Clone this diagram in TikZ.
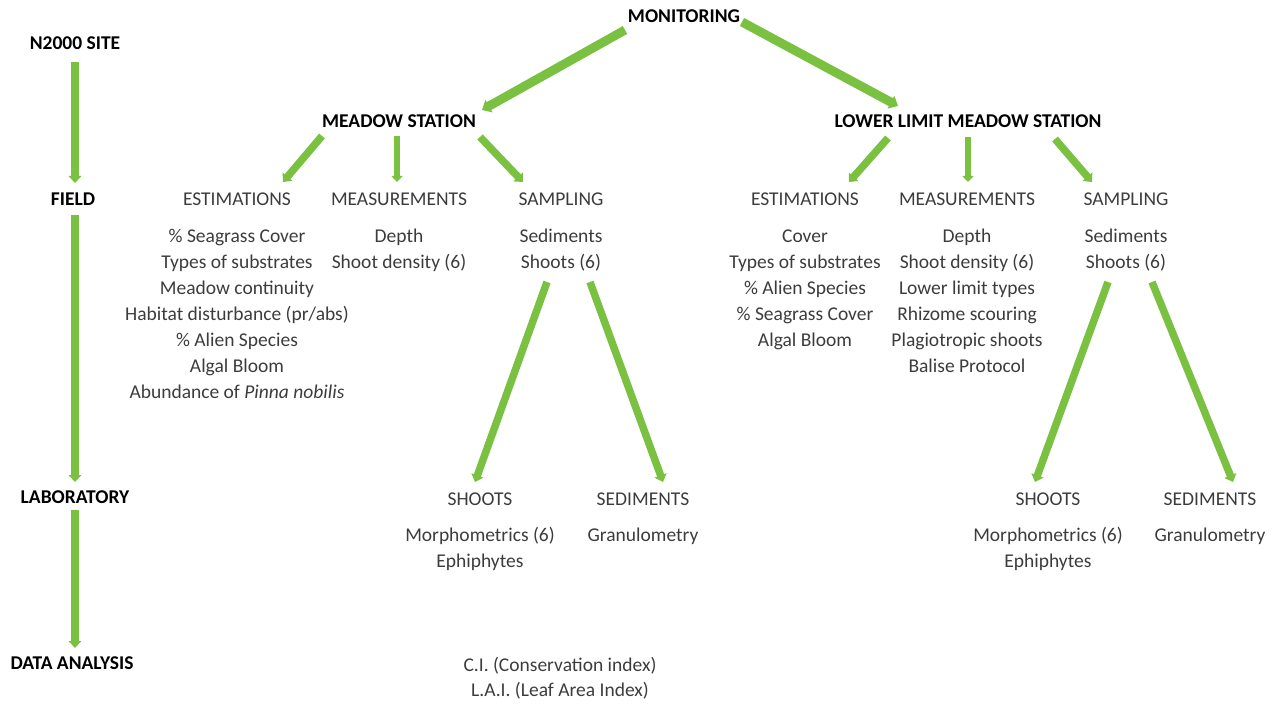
\documentclass[tikz,border=0pt]{standalone}
\usepackage{fontspec}
\setmainfont{Carlito}
\usetikzlibrary{arrows.meta}
\definecolor{leaf}{RGB}{122,193,66}
\definecolor{ink}{RGB}{60,60,60}
\begin{document}
\begin{tikzpicture}[x=1pt,y=-1pt,
  head/.style={font=\fontsize{19.5}{22}\selectfont\bfseries, text=black, inner sep=0pt, anchor=base},
  txt/.style={font=\fontsize{19.5}{22}\selectfont, text=ink, inner sep=0pt, anchor=base},
  arr/.style={draw=leaf, line width=7.5pt, -{Triangle[width=12.5pt,length=7pt]}},
  bigarr/.style={arr, line width=9pt, -{Triangle[width=14pt,length=8pt]}},
  thinarr/.style={arr, line width=6pt, -{Triangle[width=11pt,length=6pt]}},
]
\useasboundingbox (0,0) rectangle (1278,706);

% workflow stages (left column)
\node[head] (site)  at (75,50)  {N2000 SITE};
\node[head] (field) at (73,206) {FIELD};
\node[head] (lab)   at (75,503) {LABORATORY};
\node[head] (data)  at (72,669) {DATA ANALYSIS};

\draw[arr] ([shift={(0,12)}]site.base) -- ([shift={(2,-23)}]field.base);
\draw[arr] ([shift={(2,9)}]field.base) -- ([shift={(0,-21)}]lab.base);
\draw[arr] ([shift={(0,7)}]lab.base) -- ([shift={(3,-21)}]data.base);

% stations
\node[head] (mon) at (684,23)  {MONITORING};
\node[head] (ms)  at (399,128) {MEADOW STATION};
\node[head] (ls)  at (968,128) {LOWER LIMIT MEADOW STATION};

\draw[bigarr] ([shift={(-59,7)}]mon.base) -- ([shift={(83,-18)}]ms.base);
\draw[bigarr] ([shift={(58,-1)}]mon.base) -- ([shift={(-70,-22)}]ls.base);

% meadow station activities
\node[txt] (lest)  at (237,206) {ESTIMATIONS};
\node[txt] (lmeas) at (399,206) {MEASUREMENTS};
\node[txt] (lsamp) at (561,206) {SAMPLING};

\draw[arr] ([shift={(-77,8)}]ms.base) -- ([shift={(46,-24)}]lest.base);
\draw[thinarr] ([shift={(-2,8)}]ms.base) -- ([shift={(-2,-24)}]lmeas.base);
\draw[arr] ([shift={(81,9)}]ms.base) -- ([shift={(-38,-24)}]lsamp.base);

\foreach \t [count=\i] in {\% Seagrass Cover, Types of substrates, Meadow continuity,
    Habitat disturbance (pr/abs), \% Alien Species, Algal Bloom,
    {Abundance of \textit{Pinna nobilis}}}
  \node[txt] (le\i) at (237,216+26*\i) {\t};
\foreach \t [count=\i] in {Depth, Shoot density (6)}
  \node[txt] (lm\i) at (399,216+26*\i) {\t};
\node[txt] (lsed) at (561,242) {Sediments};
\node[txt] (lsho) at (561,268) {Shoots (6)};

% lower limit station activities
\node[txt] (rest)  at (805,206)  {ESTIMATIONS};
\node[txt] (rmeas) at (967,206)  {MEASUREMENTS};
\node[txt] (rsamp) at (1126,206) {SAMPLING};

\draw[arr] ([shift={(-80,10)}]ls.base) -- ([shift={(44,-24)}]rest.base);
\draw[thinarr] ([shift={(0,9)}]ls.base) -- ([shift={(1,-24)}]rmeas.base);
\draw[arr] ([shift={(87,11)}]ls.base) -- ([shift={(-34,-24)}]rsamp.base);

\foreach \t [count=\i] in {Cover, Types of substrates, \% Alien Species,
    \% Seagrass Cover, Algal Bloom}
  \node[txt] (re\i) at (805,216+26*\i) {\t};
\foreach \t [count=\i] in {Depth, Shoot density (6), Lower limit types,
    Rhizome scouring, Plagiotropic shoots, Balise Protocol}
  \node[txt] (rm\i) at (967,216+26*\i) {\t};
\node[txt] (rsed) at (1126,242) {Sediments};
\node[txt] (rsho) at (1126,268) {Shoots (6)};

% laboratory analyses
\node[txt] (lshoots) at (480,505)  {SHOOTS};
\node[txt] (lsedim)  at (643,505)  {SEDIMENTS};
\node[txt] (lmorph)  at (480,541)  {Morphometrics (6)};
\node[txt] (leph)    at (480,567)  {Ephiphytes};
\node[txt] (lgran)   at (643,541)  {Granulometry};

\draw[arr] ([shift={(-14,14)}]lsho.base) -- ([shift={(-5,-23)}]lshoots.base);
\draw[arr] ([shift={(29,14)}]lsho.base) -- ([shift={(20,-23)}]lsedim.base);

\node[txt] (rshoots) at (1048,505) {SHOOTS};
\node[txt] (rsedim)  at (1210,505) {SEDIMENTS};
\node[txt] (rmorph)  at (1048,541) {Morphometrics (6)};
\node[txt] (reph)    at (1048,567) {Ephiphytes};
\node[txt] (rgran)   at (1210,541) {Granulometry};

\draw[arr] ([shift={(-18,14)}]rsho.base) -- ([shift={(-13,-23)}]rshoots.base);
\draw[arr] ([shift={(26,14)}]rsho.base) -- ([shift={(23,-23)}]rsedim.base);

% indices
\node[txt] (ci)  at (560,671) {C.I. (Conservation index)};
\node[txt] (lai) at (560,696) {L.A.I. (Leaf Area Index)};
\end{tikzpicture}
\end{document}
